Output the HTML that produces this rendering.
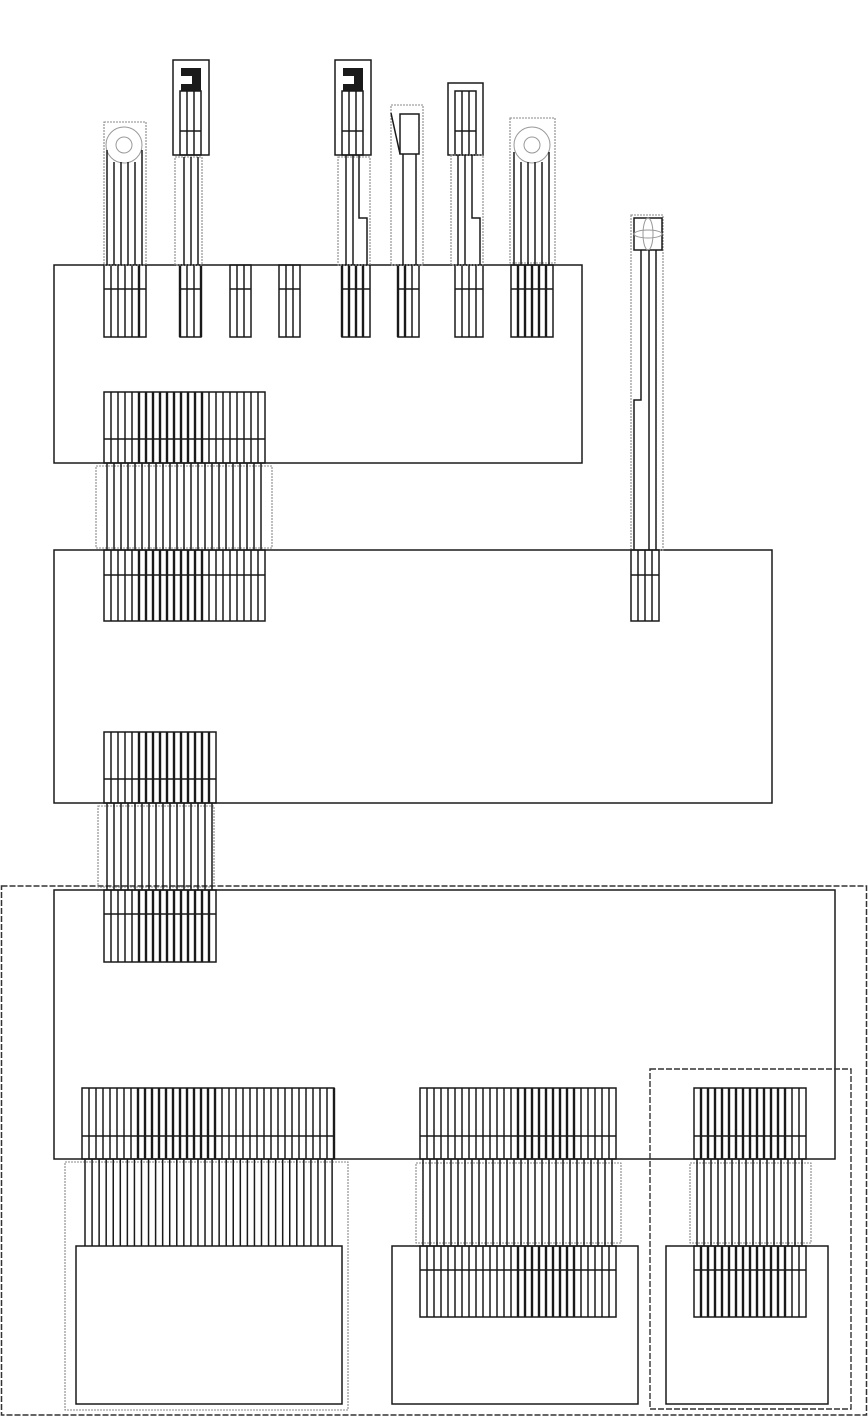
<!DOCTYPE html>
<html><head><meta charset="utf-8"><style>html,body{margin:0;padding:0;background:#fff}svg{display:block}</style></head>
<body>
<svg id="s" width="868" height="1417" viewBox="0 0 868 1417" xmlns="http://www.w3.org/2000/svg"></svg>
<script>
var s=document.getElementById('s'),h='';
function R(x,y,w,hh,st){h+='<rect x="'+x+'" y="'+y+'" width="'+w+'" height="'+hh+'" fill="none" '+(st||'stroke="#1a1a1a" stroke-width="1.5"')+'/>';}
function L(x1,y1,x2,y2,w,c){h+='<line x1="'+x1+'" y1="'+y1+'" x2="'+x2+'" y2="'+y2+'" stroke="'+(c||'#1a1a1a')+'" stroke-width="'+(w||1.5)+'"/>';}
function P(d,st){h+='<path d="'+d+'" '+(st||'fill="none" stroke="#1a1a1a" stroke-width="1.5"')+'/>';}
var DOT='stroke="#888" stroke-width="1.1" stroke-dasharray="2,1"';
function B(x,n,y1,yd,y2,t0,t1){var w=n*7;R(x,y1,w,y2-y1);L(x,yd,x+w,yd);
 for(var i=1;i<n;i++){var xx=x+i*7;L(xx,y1,xx,y2,(i>=t0&&i<=t1)?2.4:1.5);}}
function W(x,n,y1,y2){for(var i=0;i<n;i++){var xx=x+3+i*7;L(xx,y1,xx,y2);}}
R(54,265,528,198);R(54,550,718,253);
R(1.5,886,865,529,'stroke="#333" stroke-width="1.5" stroke-dasharray="6,2"');
R(54,890,781,269);
R(650,1069,201,340,'stroke="#333" stroke-width="1.4" stroke-dasharray="6,2"');
R(76,1246,266,158);R(392,1246,246,158);R(666,1246,162,158);
B(104,6,265,289,337,5,5);B(180,3,265,289,337,0,0);L(180,265,180,337,2.4);L(201,265,201,337,2.4);
B(230,3,265,289,337,-1,-1);B(279,3,265,289,337,-1,-1);
B(342,4,265,289,337,1,3);L(342,265,342,337,2.4);
B(398,3,265,289,337,1,1);L(398,265,398,337,2.4);
B(455,4,265,289,337,-1,-1);B(511,6,265,289,337,1,5);
R(104,122,42,143,DOT);
h+='<circle cx="124" cy="145" r="18" fill="none" stroke="#999" stroke-width="1"/><circle cx="124" cy="145" r="8" fill="none" stroke="#999" stroke-width="1"/>';
[107,114,121,128,135,142].forEach(function(x){var y=(x<110||x>139)?150:162;L(x,y,x,265);});
R(173,60,36,95);P('M181 68H201V91H181V84H192V76H181Z','fill="#1a1a1a"');
R(180,91,21,64);L(187,91,187,155);L(194,91,194,155);L(180,131,201,131);
R(175,157,27,108,DOT);L(184,157,184,265);L(191,157,191,265);L(198,157,198,265);
R(335,60,36,95);P('M343 68H363V91H343V84H354V76H343Z','fill="#1a1a1a"');
R(342,91,21,64);L(349,91,349,155);L(356,91,356,155);L(342,131,363,131);
R(338,157,32,108,DOT);L(346,155,346,265);L(353,155,353,265);P('M359 155V218H367V265');
R(391,105,32,160,DOT);R(400,114,19,40);L(391,113,400,154);L(403,154,403,265);L(416,154,416,265);
R(448,83,35,72);R(455,91,21,64);L(462,91,462,155);L(469,91,469,155);L(455,131,476,131);
R(451,155,32,110,DOT);L(458,155,458,265);L(465,155,465,265);P('M472 155V218H480V265');
R(510,118,45,145,DOT);
h+='<circle cx="532" cy="145" r="18" fill="none" stroke="#999" stroke-width="1"/><circle cx="532" cy="145" r="8" fill="none" stroke="#999" stroke-width="1"/>';
[514,521,528,535,542,549].forEach(function(x){var y=(x<517||x>546)?152:162;L(x,y,x,265);});
R(631,215,32,335,DOT);R(634,218,28,32);
h+='<ellipse cx="648" cy="234" rx="14" ry="4" fill="none" stroke="#999" stroke-width="1"/><ellipse cx="648" cy="234" rx="5" ry="16" fill="none" stroke="#999" stroke-width="1"/>';
P('M641 250V400H634V550');L(649,250,649,550);L(656,250,656,550);
B(631,4,550,575,621,-1,-1);
B(104,23,392,439,463,5,14);R(96,466,176,82,DOT);W(104,23,463,550);B(104,23,550,575,621,5,14);
B(104,16,732,779,803,5,15);R(98,806,116,81,DOT);W(104,16,803,890);B(104,16,890,914,962,5,15);
B(82,36,1088,1136,1159,8,19);L(334,1088,334,1159,2.4);R(65,1162,283,248,DOT);
for(var i=0;i<36;i++){var xx=85+i*7.06;L(xx,1159,xx,1246);}
B(420,28,1088,1136,1159,14,22);R(416,1163,205,80,DOT);W(420,28,1159,1246);B(420,28,1246,1270,1317,14,22);
B(694,16,1088,1136,1159,1,13);R(690,1163,121,80,DOT);W(694,16,1159,1246);B(694,16,1246,1270,1317,1,13);
s.innerHTML=h;
</script>
</body></html>
